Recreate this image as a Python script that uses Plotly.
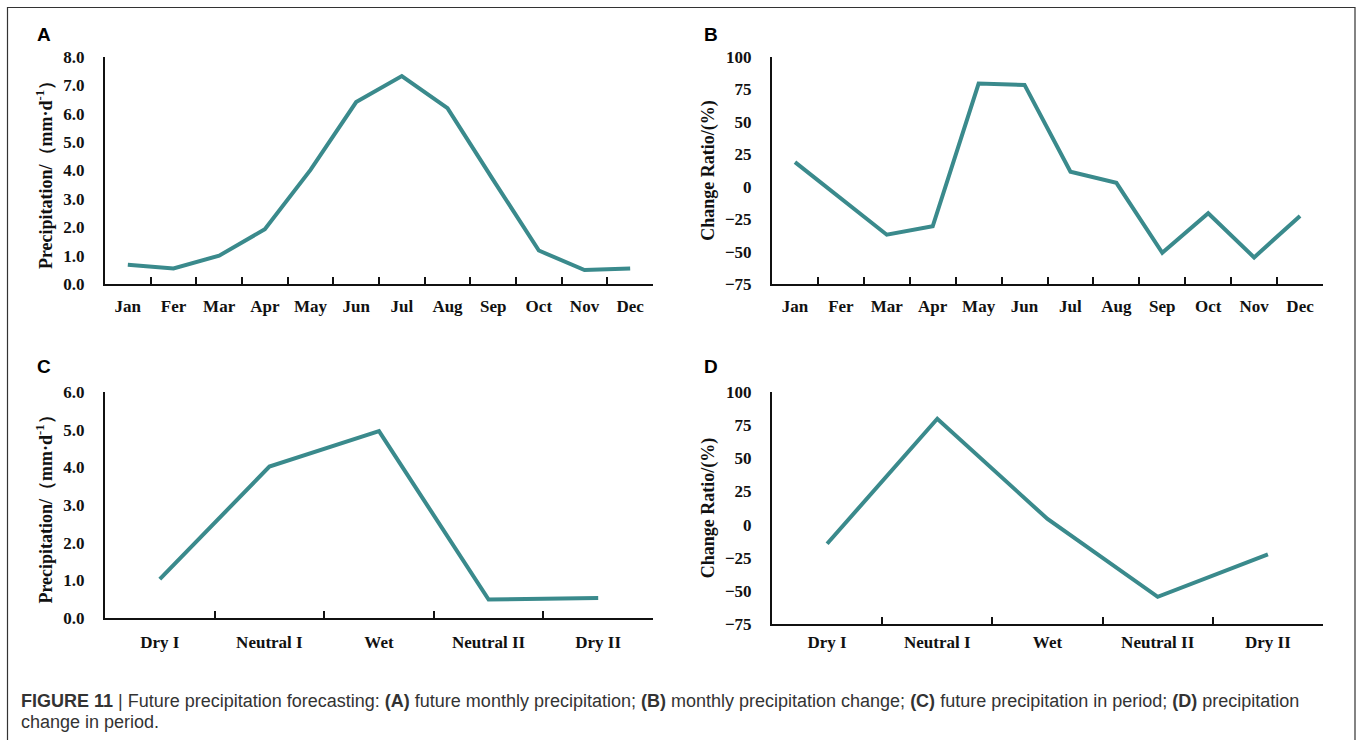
import plotly.graph_objects as go

W, H = 1358, 740

months = ["Jan", "Fer", "Mar", "Apr", "May", "Jun", "Jul", "Aug", "Sep", "Oct", "Nov", "Dec"]
monthly_precip = [0.68, 0.55, 1.0, 1.93, 4.02, 6.41, 7.33, 6.2, 3.67, 1.18, 0.49, 0.55]
monthly_change = [19, -9, -37, -30.5, 79.5, 78.5, 11.5, 3, -51, -20.5, -54.5, -22.5]

periods = ["Dry I", "Neutral I", "Wet", "Neutral II", "Dry II"]
period_precip = [1.03, 4.02, 4.96, 0.49, 0.53]
period_change = [-14.5, 79.8, 4.2, -54.5, -22.5]

precip_range_A = [0, 8]
precip_range_C = [0, 6]
change_range = [-75, 100]

LINE = "#3A8A8C"
SERIF = "Liberation Serif"
SANS = "Liberation Sans"


def px_x(v):
    return v / W


def px_y(v):
    return 1 - v / H


fig = go.Figure()

panels = [
    ("x", "y", months, monthly_precip),
    ("x2", "y2", months, monthly_change),
    ("x3", "y3", periods, period_precip),
    ("x4", "y4", periods, period_change),
]
for xa, ya, cats, vals in panels:
    fig.add_trace(go.Scatter(
        x=cats, y=vals, xaxis=xa, yaxis=ya, mode="lines",
        line=dict(color=LINE, width=4), showlegend=False,
        hoverinfo="x+y",
    ))

xtickfont = dict(family=SERIF, size=17, color="#111", weight="bold")
ytickfont = dict(family=SERIF, size=17, color="#111", weight="bold")
titlefont = dict(family=SERIF, size=18, color="#111", weight="bold")


def xaxis_cfg(domain, anchor, n, standoff):
    return dict(
        domain=domain, anchor=anchor, type="category",
        range=[-0.5, n - 0.5], showline=True, linecolor="#111", linewidth=2,
        ticks="inside", tickson="boundaries", ticklen=7, tickwidth=1.5,
        tickcolor="#111", showgrid=False, zeroline=False, automargin=False,
        tickfont=xtickfont, ticklabelstandoff=standoff, fixedrange=True,
    )


def yaxis_cfg(domain, anchor, rng, dtick, fmt, title):
    return dict(
        domain=domain, anchor=anchor, range=rng, dtick=dtick, tick0=rng[0],
        tickformat=fmt, showline=True, linecolor="#111", linewidth=2,
        ticks="", showgrid=False, zeroline=False, tickfont=ytickfont,
        ticklabelstandoff=15, fixedrange=True, automargin=False,
        title=dict(text=title, font=titlefont, standoff=6),
    )


xA = [px_x(105), px_x(653)]
xB = [px_x(772), px_x(1323)]
yAB = [px_y(284), px_y(57)]
yC = [px_y(618), px_y(392)]
yD = [px_y(624), px_y(392)]

precip_title = "Precipitation/（mm·d<sup>-1</sup>）"
change_title = "Change Ratio/(%)"

fig.update_layout(
    template="none",
    width=W, height=H,
    margin=dict(l=0, r=0, t=0, b=0),
    paper_bgcolor="white", plot_bgcolor="white",
    xaxis=xaxis_cfg(xA, "y", len(months), 6),
    xaxis2=xaxis_cfg(xB, "y2", len(months), 6),
    xaxis3=xaxis_cfg(xA, "y3", len(periods), 8),
    xaxis4=xaxis_cfg(xB, "y4", len(periods), 2),
    yaxis=yaxis_cfg(yAB, "x", precip_range_A, 1, ".1f", precip_title),
    yaxis2=yaxis_cfg(yAB, "x2", change_range, 25, "d", change_title),
    yaxis3=yaxis_cfg(yC, "x3", precip_range_C, 1, ".1f", precip_title),
    yaxis4=yaxis_cfg(yD, "x4", change_range, 25, "d", change_title),
)

# outer frame
fig.add_shape(type="rect", xref="paper", yref="paper",
              x0=px_x(7.5), x1=px_x(1355), y0=-0.05, y1=px_y(7.5),
              line=dict(color="#333", width=1.2), fillcolor="rgba(0,0,0,0)")

for letter, x, y in [("A", 44, 35), ("B", 711, 35), ("C", 44, 366), ("D", 711, 366)]:
    fig.add_annotation(text=f"<b>{letter}</b>", x=px_x(x), y=px_y(y), xref="paper", yref="paper",
                       xanchor="center", yanchor="middle",
                       showarrow=False, font=dict(family=SANS, size=19, color="#000"))

caption1 = ("<b>FIGURE 11</b> | Future precipitation forecasting: <b>(A)</b> future monthly precipitation; "
            "<b>(B)</b> monthly precipitation change; <b>(C)</b> future precipitation in period; "
            "<b>(D)</b> precipitation")
caption2 = "change in period."
fig.add_annotation(text=caption1, x=px_x(19), y=px_y(701), xref="paper", yref="paper",
                   xanchor="left", yanchor="middle", showarrow=False,
                   font=dict(family=SANS, size=18, color="#333"))
fig.add_annotation(text=caption2, x=px_x(19), y=px_y(722), xref="paper", yref="paper",
                   xanchor="left", yanchor="middle", showarrow=False,
                   font=dict(family=SANS, size=18, color="#333"))

fig.write_html("out.html", config={"displayModeBar": False},
               post_script="document.body.style.margin='0';document.body.style.overflow='hidden';")
